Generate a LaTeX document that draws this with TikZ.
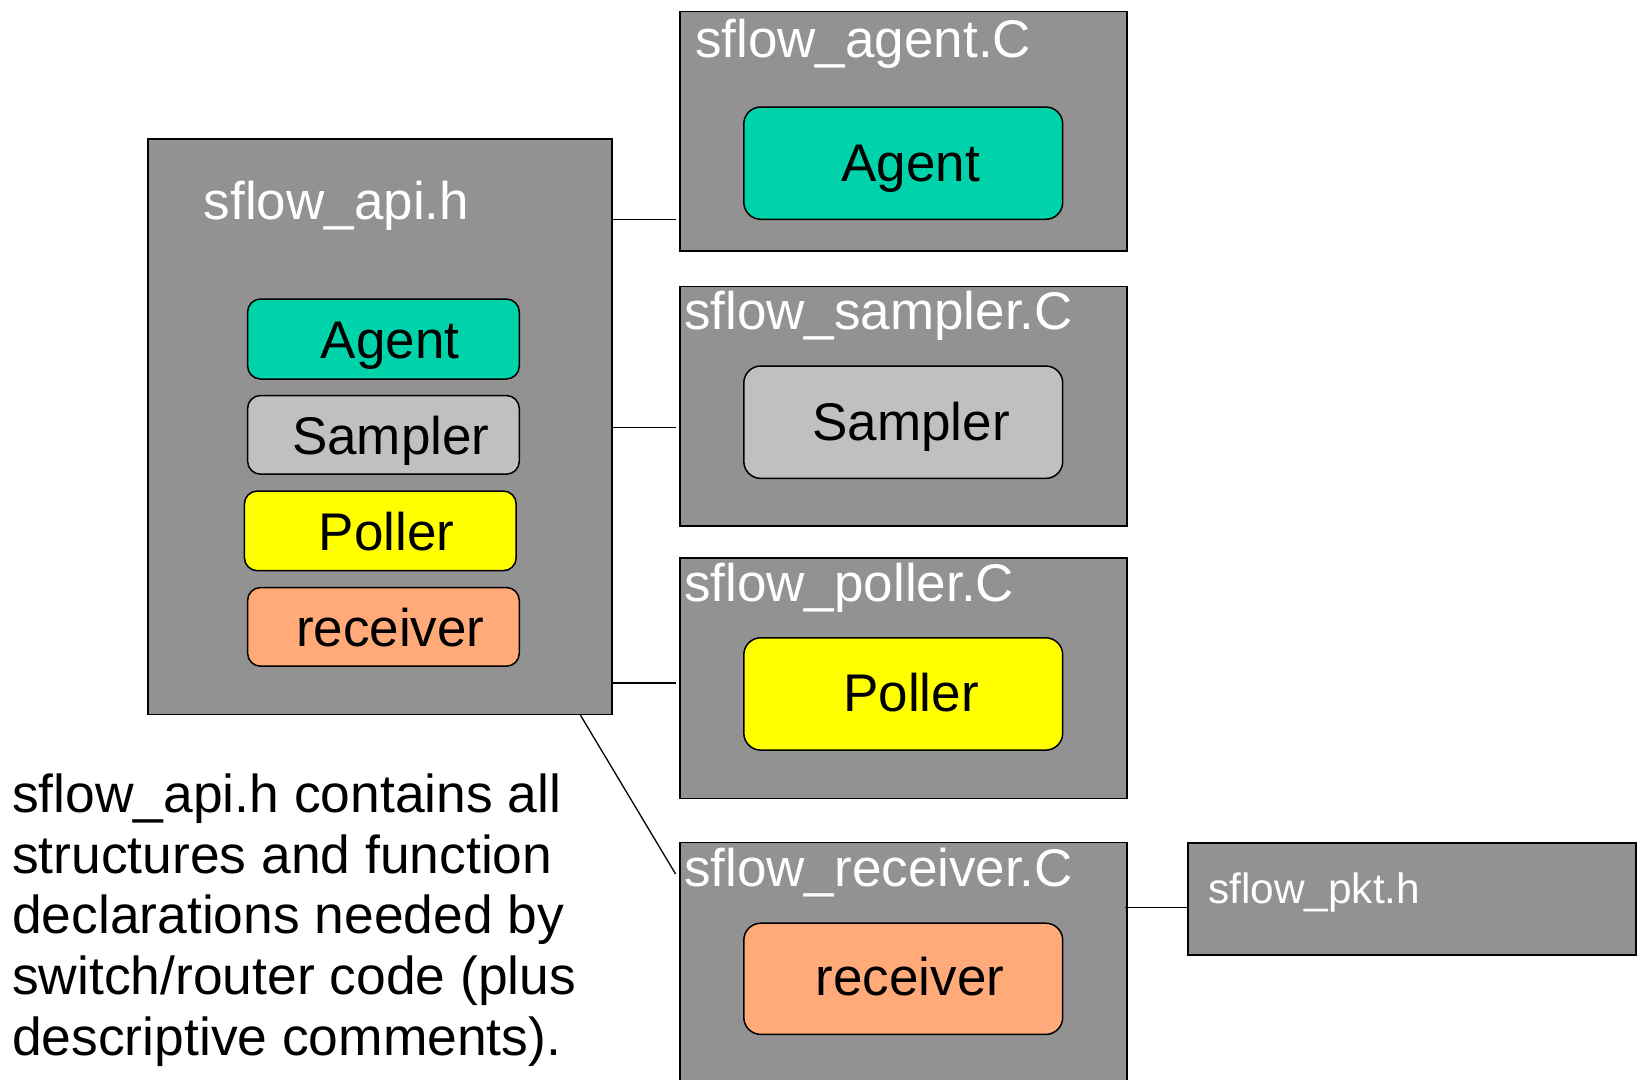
\documentclass[tikz,border=0pt]{standalone}
\usepackage{fontspec}
\setmainfont{Liberation Sans}
\usetikzlibrary{calc}
\definecolor{boxgray}{HTML}{929292}
\definecolor{agentc}{HTML}{00D2AA}
\definecolor{samplerc}{HTML}{C0C0C0}
\definecolor{pollerc}{HTML}{FFFF00}
\definecolor{recvc}{HTML}{FFAA78}
\tikzset{
  filebox/.style={draw=black, fill=boxgray, line width=1.8pt, inner sep=0pt, outer sep=0pt, anchor=north west},
  clsbox/.style={draw=black, line width=1.5pt, inner sep=0pt, outer sep=0pt, anchor=north west},
  smallcls/.style={clsbox, rounded corners=13pt},
  bigcls/.style={clsbox, rounded corners=17pt},
  titletext/.style={text=white, inner sep=0pt, anchor=base west, font=\fontsize{53}{60}\selectfont},
  clstext/.style={text=black, inner sep=0pt, anchor=base, font=\fontsize{53}{60}\selectfont},
  conn/.style={draw=black, line width=1.3pt},
}
\begin{document}
\begin{tikzpicture}[x=1pt,y=-1pt]
\useasboundingbox (0,0) rectangle (1645,1079);
\clip (0,0) rectangle (1645,1079);

% left header box
\node[filebox, minimum width=463.7pt, minimum height=575.4pt] (api) at (148,139) {};
\node[titletext] (apititle) at (203.7,219.3) {sflow\_api.h};
\node[smallcls, fill=agentc, minimum width=271.7pt, minimum height=80pt] (sagent) at (247.6,299) {};
\node[smallcls, fill=samplerc, minimum width=271.7pt, minimum height=78.7pt] (ssampler) at (247.6,395.5) {};
\node[smallcls, fill=pollerc, minimum width=271.8pt, minimum height=79.7pt] (spoller) at (244.4,491) {};
\node[smallcls, fill=recvc, minimum width=271.7pt, minimum height=78.7pt] (srecv) at (247.6,587.5) {};
\node[clstext] (sagentt) at (390,358.3) {Agent};
\node[clstext] (ssamplert) at (390.8,454.8) {Sampler};
\node[clstext] (spollert) at (386.6,550.3) {Poller};
\node[clstext] (srecvt) at (390.3,646.8) {receiver};

% right column
\node[filebox, minimum width=446.9pt, minimum height=239.2pt] (agentf) at (679.8,11.5) {};
\node[titletext] (agentft) at (695,57.9) {sflow\_agent.C};
\node[bigcls, fill=agentc, minimum width=318.9pt, minimum height=112.3pt] (bagent) at (743.8,107) {};
\node[clstext] (bagentt) at (910.6,181.4) {Agent};

\node[filebox, minimum width=446.9pt, minimum height=239.1pt] (samplerf) at (679.8,286.5) {};
\node[titletext] (samplerft) at (684,329.8) {sflow\_sampler.C};
\node[bigcls, fill=samplerc, minimum width=318.9pt, minimum height=112.4pt] (bsampler) at (743.8,366) {};
\node[clstext] (bsamplert) at (911,440.4) {Sampler};

\node[filebox, minimum width=446.9pt, minimum height=240.3pt] (pollerf) at (679.8,558.1) {};
\node[titletext] (pollerft) at (684,601.9) {sflow\_poller.C};
\node[bigcls, fill=pollerc, minimum width=318.9pt, minimum height=112.3pt] (bpoller) at (743.8,637.8) {};
\node[clstext] (bpollert) at (911.1,711.5) {Poller};

\node[filebox, minimum width=446.9pt, minimum height=260pt] (recvf) at (679.8,842.4) {};
\node[titletext] (recvft) at (684,886.2) {sflow\_receiver.C};
\node[bigcls, fill=recvc, minimum width=318.9pt, minimum height=111.2pt] (brecv) at (743.8,923.2) {};
\node[clstext] (brecvt) at (910,995.8) {receiver};

\node[filebox, minimum width=448pt, minimum height=112pt] (pkt) at (1187.6,843) {};
\node[titletext, font=\fontsize{42.4}{48}\selectfont] (pktt) at (1208,903.7) {sflow\_pkt.h};

% description (base anchor = last line's baseline)
\node[inner sep=0pt, anchor=base west, align=left, font=\fontsize{53.4}{60.6}\selectfont] (desc) at (12,1055)
  {sflow\_api.h contains all\\structures and function\\declarations needed by\\switch/router code (plus\\descriptive comments).};

% connectors
\coordinate (y1) at (0,219.3);
\coordinate (y2) at (0,427.3);
\coordinate (y3) at (0,683);
\draw[conn, shorten >=4pt] (api.east |- y1) -- (agentf.west |- y1);
\draw[conn, shorten >=4pt] (api.east |- y2) -- (samplerf.west |- y2);
\draw[conn, shorten >=4pt] (api.east |- y3) -- (pollerf.west |- y3);
\draw[conn] ($(api.south east)+(-31.7,0)$) -- ($(recvf.north west)+(-4.2,31.6)$);
\draw[conn] ($(recvf.north east)+(-2,65.3)$) -- ($(pkt.north west)+(0,64.7)$);
\end{tikzpicture}
\end{document}
